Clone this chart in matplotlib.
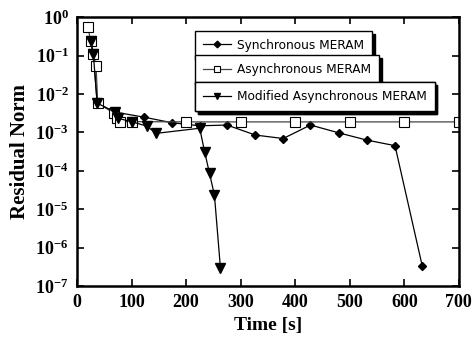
import math
import matplotlib.pyplot as plt
from matplotlib.ticker import FixedLocator, FuncFormatter, NullLocator

plt.rcParams['mathtext.fontset'] = 'custom'
plt.rcParams['mathtext.rm'] = 'Liberation Serif:bold'
plt.rcParams['mathtext.bf'] = 'Liberation Serif:bold'

# Synchronous MERAM
sync_t = [25, 30, 37, 68, 122, 174, 225, 275, 327, 378, 428, 480, 531, 583, 633]
sync_r = [0.24, 0.11, 0.0058, 0.0034, 0.0025, 0.00178, 0.00148, 0.00155,
          0.00085, 0.00069, 0.00155, 0.00097, 0.00063, 0.00045, 3.3e-7]

# Asynchronous MERAM
async_t = [20, 25, 30, 35, 38, 68, 73, 79, 100, 200, 300, 400, 500, 600, 700]
async_r = [0.56, 0.24, 0.11, 0.053, 0.0057, 0.0032, 0.0024, 0.0019, 0.0019,
           0.00187, 0.00187, 0.00187, 0.00187, 0.00187, 0.00187]

# Modified Asynchronous MERAM
mod_t = [25, 30, 37, 70, 76, 100, 128, 145, 225, 234, 243, 252, 263]
mod_r = [0.24, 0.11, 0.0058, 0.0033, 0.0023, 0.0019, 0.00145, 0.00094,
         0.00128, 0.00031, 8.5e-5, 2.3e-5, 2.9e-7]

x_ticks = [0, 100, 200, 300, 400, 500, 600, 700]
y_exps = [0, -1, -2, -3, -4, -5, -6, -7]

fig = plt.figure(figsize=(4.74, 3.42), dpi=100)
ax = fig.add_axes([0.1624, 0.1637, 0.8056, 0.7863])

l1, = ax.plot(sync_t, sync_r, color='black', lw=0.9, marker='D',
              markersize=4.5, markerfacecolor='black', label='Synchronous MERAM')
l2, = ax.plot(async_t, async_r, color='#444444', lw=0.9, marker='s',
              markersize=6.5, markerfacecolor='white', markeredgecolor='black',
              markeredgewidth=0.8, label='Asynchronous MERAM')
l3, = ax.plot(mod_t, mod_r, color='black', lw=0.9, marker='v',
              markersize=6.5, markerfacecolor='black',
              label='Modified Asynchronous MERAM')

ax.set_yscale('log')
ax.set_xlim(0, 700)
ax.set_ylim(1e-7, 1)
ax.xaxis.set_major_locator(FixedLocator(x_ticks))
ax.yaxis.set_major_locator(FixedLocator([10.0 ** e for e in y_exps]))
ax.yaxis.set_minor_locator(NullLocator())
ax.yaxis.set_major_formatter(
    FuncFormatter(lambda v, p: r'$\mathbf{10^{%d}}$' % round(math.log10(v))))

for lab in ax.get_xticklabels():
    lab.set_fontfamily('Liberation Serif')
    lab.set_fontweight('bold')
ax.tick_params(axis='both', which='major', direction='in', length=5,
               width=1.2, top=True, right=True, labelsize=13, pad=6)
for sp in ax.spines.values():
    sp.set_linewidth(1.8)

ax.set_xlabel('Time [s]', fontfamily='Liberation Serif', fontweight='bold',
              fontsize=14, labelpad=4)
ax.set_ylabel('Residual Norm', fontfamily='Liberation Serif',
              fontweight='bold', fontsize=15, labelpad=4)

# each legend entry gets its own shadowed box
tops = [0.949, 0.859, 0.758]
for line, top in zip([l1, l2, l3], tops):
    leg = ax.legend(handles=[line], loc='upper left',
                    bbox_to_anchor=(0.31, top), fancybox=False,
                    shadow={'color': 'black', 'alpha': 1.0},
                    framealpha=1, edgecolor='black', markerscale=0.75,
                    handlelength=2.3, borderpad=0.65, borderaxespad=0,
                    handletextpad=0.5, prop={'family': 'DejaVu Sans', 'size': 8.7})
    leg.get_frame().set_linewidth(1.0)
    ax.add_artist(leg)

fig.savefig('out.png', dpi=100)
